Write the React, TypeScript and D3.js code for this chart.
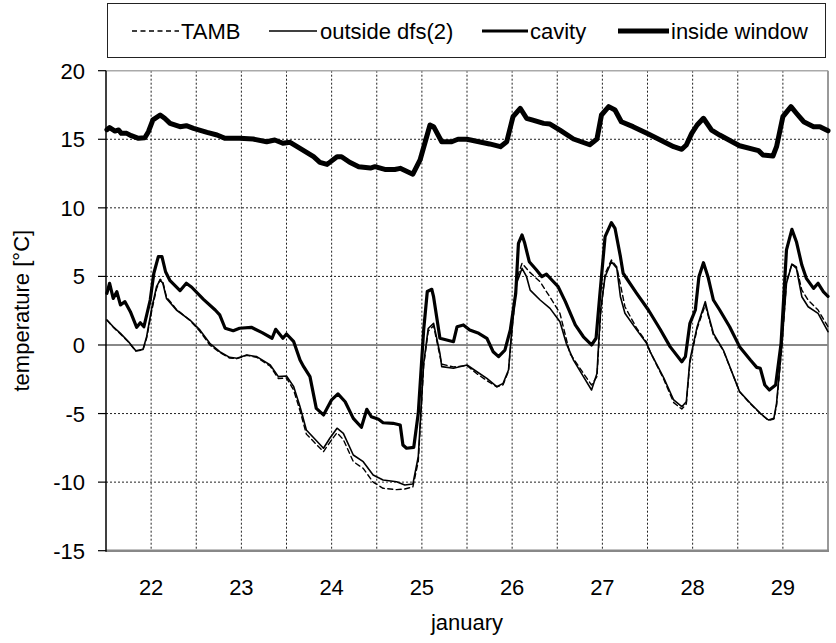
import React from "react";
import * as d3 from "d3";

// ---- data (day of January, temperature °C) ----
const tamb: [number, number][] = [
  [21.51, 1.82], [21.58, 1.3], [21.66, 0.8], [21.75, 0.2], [21.83, -0.45], [21.91, -0.35], [21.95, 0.5],
  [22.01, 2.6], [22.06, 4.1], [22.10, 4.8], [22.13, 4.6], [22.17, 3.5], [22.28, 2.6], [22.43, 1.8],
  [22.54, 1.0], [22.65, 0.0], [22.76, -0.55], [22.87, -0.95], [22.95, -1.0], [23.06, -0.75], [23.17, -0.9],
  [23.32, -1.55], [23.41, -2.45], [23.50, -2.4], [23.58, -3.3], [23.65, -4.8], [23.72, -6.5], [23.91, -7.78],
  [23.98, -7.1], [24.06, -6.4], [24.13, -6.9], [24.24, -8.5], [24.35, -9.0], [24.46, -10.0], [24.57, -10.45],
  [24.72, -10.55], [24.81, -10.5], [24.90, -10.35], [24.96, -8.5], [25.02, -1.5], [25.07, 1.0], [25.13, 1.4],
  [25.20, -0.8], [25.22, -1.4], [25.35, -1.6], [25.50, -1.5], [25.61, -2.1], [25.72, -2.6], [25.83, -3.05],
  [25.90, -2.9], [25.96, -1.9], [25.99, 0.4], [26.05, 4.8], [26.11, 5.96], [26.19, 5.34], [26.31, 4.61],
  [26.44, 3.28], [26.53, 2.31], [26.64, -0.61], [26.79, -2.07], [26.88, -2.92], [26.94, -2.3], [26.98, 2.2],
  [27.03, 5.2], [27.10, 6.2], [27.16, 5.7], [27.25, 2.79], [27.38, 1.22], [27.49, 0.2], [27.53, -0.5],
  [27.68, -2.5], [27.79, -4.2], [27.88, -4.67], [27.93, -4.3], [27.97, -1.3], [28.05, 1.2], [28.14, 2.92],
  [28.17, 2.2], [28.23, 0.73], [28.34, -0.4], [28.52, -3.4], [28.64, -4.3], [28.75, -5.0], [28.84, -5.5],
  [28.90, -5.4], [28.93, -4.4], [28.99, 0.0], [29.04, 4.6], [29.10, 5.9], [29.15, 5.7], [29.21, 4.0],
  [29.28, 3.28], [29.39, 2.55], [29.50, 1.33],
];

const outsideDfs: [number, number][] = [
  [21.51, 1.82], [21.58, 1.33], [21.66, 0.85], [21.75, 0.24], [21.83, -0.42], [21.91, -0.32], [21.95, 0.6],
  [22.01, 2.79], [22.06, 4.25], [22.10, 4.74], [22.13, 4.5], [22.17, 3.4], [22.28, 2.55], [22.43, 1.82],
  [22.54, 1.1], [22.65, 0.12], [22.76, -0.49], [22.87, -0.9], [22.95, -0.97], [23.06, -0.73], [23.17, -0.85],
  [23.32, -1.46], [23.41, -2.31], [23.50, -2.26], [23.58, -3.04], [23.65, -4.5], [23.72, -6.2], [23.91, -7.53],
  [23.98, -6.8], [24.06, -6.07], [24.13, -6.44], [24.24, -8.02], [24.35, -8.51], [24.46, -9.48], [24.57, -9.84],
  [24.72, -9.97], [24.81, -10.21], [24.90, -10.14], [24.96, -8.15], [25.02, -1.34], [25.07, 1.2], [25.13, 1.58],
  [25.20, -0.61], [25.22, -1.58], [25.35, -1.7], [25.50, -1.46], [25.61, -1.95], [25.72, -2.43], [25.83, -3.04],
  [25.90, -2.8], [25.96, -1.82], [25.99, 0.6], [26.05, 4.5], [26.11, 5.59], [26.16, 4.98], [26.20, 4.0],
  [26.31, 3.28], [26.42, 2.67], [26.53, 1.7], [26.60, 0.12], [26.68, -1.1], [26.79, -2.31], [26.88, -3.28],
  [26.94, -2.07], [26.98, 2.55], [27.03, 4.98], [27.10, 6.07], [27.16, 5.59], [27.20, 3.52], [27.25, 2.31],
  [27.38, 1.1], [27.49, 0.12], [27.53, -0.5], [27.68, -2.4], [27.79, -4.01], [27.88, -4.5], [27.93, -4.14],
  [27.97, -1.1], [28.05, 1.33], [28.14, 3.16], [28.17, 2.31], [28.23, 0.85], [28.34, -0.37], [28.52, -3.4],
  [28.64, -4.25], [28.75, -4.98], [28.84, -5.47], [28.90, -5.35], [28.93, -4.25], [28.99, 0.12], [29.04, 4.5],
  [29.10, 5.9], [29.15, 5.59], [29.21, 3.52], [29.28, 2.79], [29.39, 2.31], [29.50, 0.97],
];

const cavity: [number, number][] = [
  [21.51, 3.77], [21.54, 4.5], [21.58, 3.4], [21.62, 3.88], [21.66, 2.92], [21.71, 3.16], [21.77, 2.43],
  [21.84, 1.29], [21.88, 1.62], [21.92, 1.33], [21.99, 3.28], [22.03, 5.23], [22.08, 6.44], [22.12, 6.44],
  [22.16, 5.34], [22.21, 4.69], [22.32, 3.96], [22.39, 4.5], [22.45, 4.21], [22.58, 3.33], [22.71, 2.55],
  [22.76, 2.19], [22.82, 1.22], [22.91, 1.04], [22.98, 1.22], [23.11, 1.29], [23.23, 0.9], [23.34, 0.49],
  [23.38, 1.14], [23.46, 0.49], [23.50, 0.8], [23.58, 0.24], [23.65, -1.1], [23.69, -1.58], [23.76, -2.31],
  [23.83, -4.62], [23.91, -5.1], [24.00, -4.0], [24.07, -3.57], [24.15, -4.14], [24.24, -5.35], [24.33, -6.0],
  [24.39, -4.69], [24.44, -5.23], [24.52, -5.42], [24.57, -5.67], [24.68, -5.71], [24.76, -5.83], [24.79, -7.29],
  [24.83, -7.53], [24.91, -7.46], [24.96, -4.98], [25.02, 1.1], [25.06, 3.9], [25.11, 4.06], [25.13, 3.5],
  [25.20, 0.49], [25.35, 0.24], [25.39, 1.33], [25.46, 1.46], [25.53, 1.1], [25.63, 0.85], [25.72, 0.49],
  [25.79, -0.49], [25.85, -0.85], [25.92, -0.37], [25.98, 1.1], [26.04, 3.77], [26.07, 7.41], [26.11, 8.02],
  [26.14, 7.41], [26.19, 6.07], [26.27, 5.47], [26.33, 4.98], [26.38, 5.17], [26.44, 4.74], [26.51, 4.25],
  [26.59, 3.16], [26.70, 1.46], [26.79, 0.6], [26.88, 0.0], [26.93, 0.49], [26.97, 3.52], [27.03, 7.9],
  [27.10, 8.92], [27.14, 8.51], [27.20, 6.44], [27.23, 5.23], [27.38, 3.77], [27.51, 2.55], [27.64, 1.15],
  [27.75, -0.12], [27.88, -1.22], [27.92, -0.85], [27.97, 1.58], [28.03, 2.55], [28.07, 4.98], [28.12, 6.0],
  [28.17, 4.98], [28.23, 3.28], [28.30, 2.55], [28.41, 1.33], [28.52, -0.12], [28.64, -1.1], [28.71, -1.63],
  [28.75, -1.7], [28.80, -2.92], [28.85, -3.28], [28.92, -2.92], [28.98, 0.12], [29.04, 6.93], [29.10, 8.43],
  [29.15, 7.53], [29.21, 5.83], [29.26, 4.86], [29.34, 4.13], [29.39, 4.5], [29.45, 3.88], [29.50, 3.55],
];

const insideWindow: [number, number][] = [
  [21.51, 15.7], [21.54, 15.85], [21.60, 15.6], [21.64, 15.68], [21.67, 15.43], [21.73, 15.43], [21.78, 15.26],
  [21.86, 15.07], [21.93, 15.11], [21.97, 15.55], [22.02, 16.41], [22.10, 16.77], [22.15, 16.53], [22.21, 16.16],
  [22.32, 15.92], [22.39, 15.99], [22.47, 15.8], [22.62, 15.5], [22.73, 15.31], [22.82, 15.07], [22.98, 15.07],
  [23.13, 15.02], [23.28, 14.82], [23.37, 14.95], [23.46, 14.71], [23.54, 14.78], [23.65, 14.34], [23.80, 13.73],
  [23.87, 13.32], [23.95, 13.17], [24.06, 13.73], [24.11, 13.73], [24.20, 13.32], [24.30, 13.0], [24.43, 12.9],
  [24.48, 13.0], [24.59, 12.8], [24.70, 12.8], [24.76, 12.88], [24.90, 12.45], [24.98, 13.49], [25.09, 16.04],
  [25.13, 15.92], [25.22, 14.82], [25.33, 14.82], [25.40, 15.0], [25.50, 15.0], [25.75, 14.66], [25.87, 14.46],
  [25.94, 14.82], [26.01, 16.65], [26.09, 17.26], [26.16, 16.53], [26.22, 16.41], [26.35, 16.16], [26.42, 16.11],
  [26.53, 15.67], [26.68, 15.02], [26.86, 14.6], [26.94, 15.02], [26.99, 16.77], [27.07, 17.38], [27.14, 17.13],
  [27.21, 16.28], [27.34, 15.92], [27.51, 15.38], [27.68, 14.82], [27.79, 14.46], [27.88, 14.27], [27.93, 14.58],
  [27.99, 15.43], [28.05, 16.04], [28.12, 16.53], [28.21, 15.67], [28.30, 15.31], [28.52, 14.53], [28.73, 14.17],
  [28.78, 13.85], [28.89, 13.78], [28.93, 14.46], [29.00, 16.65], [29.09, 17.38], [29.15, 16.9], [29.23, 16.28],
  [29.34, 15.92], [29.41, 15.92], [29.50, 15.62],
];

const xTicks = [22, 23, 24, 25, 26, 27, 28, 29];
const xGrid = [22, 22.5, 23, 23.5, 24, 24.5, 25, 25.5, 26, 26.5, 27, 27.5, 28, 28.5, 29];
const yTicks = [20, 15, 10, 5, 0, -5, -10, -15];
const legendLabels = ["TAMB", "outside dfs(2)", "cavity", "inside window"];

const W = 836;
const H = 643;
const L = 106, R = 828, T = 70.7, B = 550.7;
const FONT = "'Liberation Sans', Arial, sans-serif";

export default function App() {
  const x = d3.scaleLinear().domain([21.5, 29.5]).range([L, R]);
  const y = d3.scaleLinear().domain([-15, 20]).range([B, T]);
  const line = d3.line<[number, number]>().x((d) => x(d[0])).y((d) => y(d[1]));

  const series = [
    { data: tamb, w: 1.4, dash: "5,3.5" },
    { data: outsideDfs, w: 1.6, dash: undefined },
    { data: cavity, w: 3.2, dash: undefined },
    { data: insideWindow, w: 5, dash: undefined },
  ];

  const legendItems = [
    { x1: 132, x2: 179, tx: 181, w: 1.4, dash: "5,3.5" },
    { x1: 269, x2: 317, tx: 320, w: 1.6, dash: undefined },
    { x1: 482, x2: 528, tx: 530, w: 3.2, dash: undefined },
    { x1: 618, x2: 669, tx: 671, w: 5, dash: undefined },
  ];

  return (
    <svg
      width={W}
      height={H}
      style={{ position: "absolute", left: 0, top: 0, background: "#fff" }}
      fontFamily={FONT}
    >
      <rect x={0} y={0} width={W} height={H} fill="#fff" />
      {/* legend */}
      <rect x={107.5} y={3.5} width={718} height={54} fill="#fff" stroke="#222" strokeWidth={1} />
      {legendItems.map((it, i) => (
        <g key={i}>
          <line x1={it.x1} x2={it.x2} y1={31} y2={31} stroke="#000" strokeWidth={it.w} strokeDasharray={it.dash} />
          <text x={it.tx} y={39} fontSize={22} fill="#000">{legendLabels[i]}</text>
        </g>
      ))}

      {/* horizontal grid */}
      {yTicks.filter((v) => v !== 0 && v !== 20 && v !== -15).map((v) => (
        <line key={"hg" + v} x1={L} x2={R} y1={y(v)} y2={y(v)} stroke="#222" strokeWidth={1} strokeDasharray="2,2" />
      ))}
      {/* vertical grid */}
      {xGrid.map((v) => (
        <line key={"vg" + v} x1={x(v)} x2={x(v)} y1={T} y2={B} stroke="#222" strokeWidth={1} strokeDasharray="2,2" />
      ))}
      {/* frame */}
      <line x1={L} x2={R} y1={y(20)} y2={y(20)} stroke="#aaa" strokeWidth={1.5} />
      <line x1={R} x2={R} y1={T} y2={B} stroke="#999" strokeWidth={2} />
      <line x1={L} x2={R} y1={y(0)} y2={y(0)} stroke="#888" strokeWidth={2} />
      <line x1={L} x2={R + 1} y1={y(-15)} y2={y(-15)} stroke="#888" strokeWidth={2.5} />
      <line x1={L} x2={L} y1={T} y2={B + 1} stroke="#000" strokeWidth={1.5} />
      {yTicks.map((v) => (
        <line key={"yt" + v} x1={L - 8} x2={L} y1={y(v)} y2={y(v)} stroke="#000" strokeWidth={1.2} />
      ))}

      {/* series */}
      {series.map((s, i) => (
        <path
          key={"s" + i}
          d={line(s.data) || ""}
          fill="none"
          stroke="#000"
          strokeWidth={s.w}
          strokeDasharray={s.dash}
          strokeLinejoin="round"
          strokeLinecap="round"
        />
      ))}

      {/* y tick labels */}
      {yTicks.map((v) => (
        <text key={"yl" + v} x={85} y={y(v) + 8} fontSize={22} textAnchor="end" fill="#000">
          {v}
        </text>
      ))}
      {/* x tick labels */}
      {xTicks.map((v) => (
        <text key={"xl" + v} x={x(v)} y={595} fontSize={22} textAnchor="middle" fill="#000">
          {v}
        </text>
      ))}
      <text x={(L + R) / 2} y={630} fontSize={22} textAnchor="middle" fill="#000">january</text>
      <text
        transform={`translate(29, ${(T + B) / 2}) rotate(-90)`}
        fontSize={22}
        textAnchor="middle"
        fill="#000"
      >
        temperature [°C]
      </text>
    </svg>
  );
}
